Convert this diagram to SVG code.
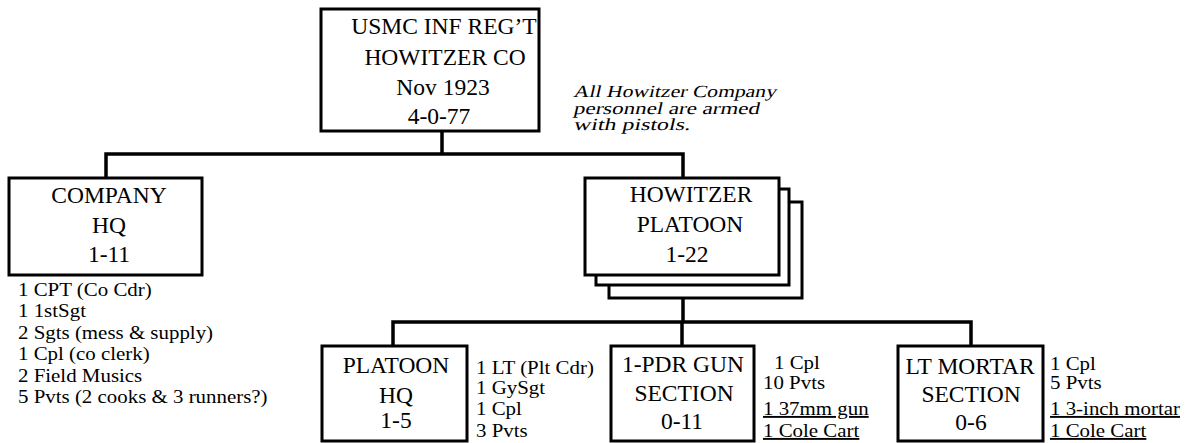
<svg xmlns="http://www.w3.org/2000/svg" width="1190" height="443" viewBox="0 0 1190 443">
<style>
.box{fill:#fff;stroke:#000;stroke-width:3}
.ln{fill:none;stroke:#000;stroke-width:3.5}
.t{font-family:"Liberation Serif","Times New Roman",serif;font-size:23.5px;fill:#000;text-anchor:middle}
.s{font-family:"Liberation Serif","Times New Roman",serif;font-size:19px;fill:#000}
.u{text-decoration:underline}
.n{font-family:"Liberation Serif","Times New Roman",serif;font-size:17px;fill:#000}
</style>
<rect width="1190" height="443" fill="#fff"/>
<g id="connectors">
<path class="ln" d="M442,131 V154 M106,178 V154 H683 V178"/>
<path class="ln" d="M683,298 V322 M393,346 V322 H971 V346 M682,322 V346"/>
</g>
<g id="top">
<rect class="box" x="321" y="9" width="218" height="122"/>
<text class="t" x="444" y="34">USMC INF REG’T</text>
<text class="t" x="445" y="65">HOWITZER CO</text>
<text class="t" x="443" y="95">Nov 1923</text>
<text class="t" x="439" y="124">4-0-77</text>
</g>
<g id="note">
<text class="n" transform="translate(573,97) skewX(-13)" x="0" y="0" textLength="203" lengthAdjust="spacingAndGlyphs">All Howitzer Company</text>
<text class="n" transform="translate(573,113.5) skewX(-13)" x="0" y="0" textLength="186" lengthAdjust="spacingAndGlyphs">personnel are armed</text>
<text class="n" transform="translate(573,130) skewX(-13)" x="0" y="0" textLength="117" lengthAdjust="spacingAndGlyphs">with pistols.</text>
</g>
<g id="company-hq">
<rect class="box" x="9" y="178" width="193" height="97"/>
<text class="t" x="109" y="203">COMPANY</text>
<text class="t" x="109" y="233">HQ</text>
<text class="t" x="109" y="262">1-11</text>
<text class="s" transform="translate(18,296) scale(1.1,1)">1 CPT (Co Cdr)</text>
<text class="s" transform="translate(18,317.4) scale(1.1,1)">1 1stSgt</text>
<text class="s" transform="translate(18,338.8) scale(1.1,1)">2 Sgts (mess &amp; supply)</text>
<text class="s" transform="translate(18,360.2) scale(1.1,1)">1 Cpl (co clerk)</text>
<text class="s" transform="translate(18,381.6) scale(1.1,1)">2 Field Musics</text>
<text class="s" transform="translate(18,403) scale(1.1,1)">5 Pvts (2 cooks &amp; 3 runners?)</text>
</g>
<g id="howitzer-platoon">
<rect class="box" x="609" y="202" width="193" height="96"/>
<rect class="box" x="596" y="189" width="193" height="96"/>
<rect class="box" x="585" y="178" width="194" height="97"/>
<text class="t" x="691" y="202">HOWITZER</text>
<text class="t" x="690" y="232">PLATOON</text>
<text class="t" x="687" y="262">1-22</text>
</g>
<g id="platoon-hq">
<rect class="box" x="322" y="346" width="145" height="95"/>
<text class="t" x="396" y="373">PLATOON</text>
<text class="t" x="396" y="403">HQ</text>
<text class="t" x="396" y="428">1-5</text>
<text class="s" transform="translate(476,374) scale(1.1,1)">1 LT (Plt Cdr)</text>
<text class="s" transform="translate(476,394) scale(1.1,1)">1 GySgt</text>
<text class="s" transform="translate(476,415) scale(1.1,1)">1 Cpl</text>
<text class="s" transform="translate(476,436.5) scale(1.1,1)">3 Pvts</text>
</g>
<g id="gun-section">
<rect class="box" x="611" y="346" width="143" height="95"/>
<text class="t" x="683" y="372">1-PDR GUN</text>
<text class="t" x="684" y="401">SECTION</text>
<text class="t" x="682" y="428.5">0-11</text>
<text class="s" transform="translate(774,368.5) scale(1.1,1)">1 Cpl</text>
<text class="s" transform="translate(763,389) scale(1.1,1)">10 Pvts</text>
<text class="s u" transform="translate(763,415) scale(1.1,1)">1 37mm gun</text>
<text class="s u" transform="translate(763,437) scale(1.1,1)">1 Cole Cart</text>
</g>
<g id="mortar-section">
<rect class="box" x="898" y="346" width="145" height="95"/>
<text class="t" x="970" y="374">LT MORTAR</text>
<text class="t" x="971" y="401.5">SECTION</text>
<text class="t" x="971" y="429.5">0-6</text>
<text class="s" transform="translate(1050,369.5) scale(1.1,1)">1 Cpl</text>
<text class="s" transform="translate(1050,389) scale(1.1,1)">5 Pvts</text>
<text class="s u" transform="translate(1050,415) scale(1.1,1)">1 3-inch mortar</text>
<text class="s u" transform="translate(1050,437) scale(1.1,1)">1 Cole Cart</text>
</g>
</svg>
